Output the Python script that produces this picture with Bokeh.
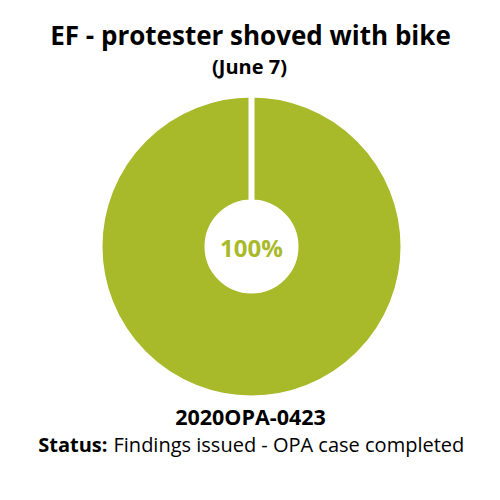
import math
from bokeh.plotting import figure
from bokeh.models import Range1d
from bokeh.core.properties import value
from bokeh.embed import file_html
from bokeh.resources import INLINE

# Chart content
title = "EF - protester shoved with bike"
subtitle = "(June 7)"
case_id = "2020OPA-0423"
status_label = "Status:"
status_text = "Findings issued - OPA case completed"
categories = ["Sustained"]
shares = [100]
colors = ["#a8b92a"]

W, H = 500, 500
p = figure(width=W, height=H, output_backend="svg", toolbar_location=None,
           x_range=Range1d(0, W), y_range=Range1d(H, 0),
           min_border=0, outline_line_color=None)
p.axis.visible = False
p.grid.visible = False
p.background_fill_color = "white"
p.border_fill_color = "white"

# Donut: wedges run clockwise from 12 o'clock
cx, cy = 251, 246
total = sum(shares)
start = math.pi / 2
starts, ends = [], []
for s in shares:
    sweep = 2 * math.pi * s / total
    starts.append(start)
    ends.append(start - sweep)
    start -= sweep

p.annular_wedge(x=[cx] * len(shares), y=[cy] * len(shares),
                inner_radius=44, outer_radius=152,
                start_angle=starts, end_angle=ends,
                direction="clock",
                fill_color=colors, line_color="white", line_width=6)

p.text(x=[cx], y=[cy + 1], text=[f"{shares[0]}%"], text_align="center",
       text_baseline="middle", text_font=value("Open Sans"),
       text_font_style="bold", text_font_size="24px", text_color=colors[0])

# Titles
p.text(x=[250], y=[34], text=[title], text_align="center", text_baseline="middle",
       text_font=value("Open Sans"), text_font_style="bold",
       text_font_size="26px", text_color="black")
p.text(x=[249], y=[66], text=[subtitle], text_align="center", text_baseline="middle",
       text_font=value("Open Sans"), text_font_style="bold",
       text_font_size="20px", text_color="black")

# Footer
p.text(x=[250], y=[416], text=[case_id], text_align="center", text_baseline="middle",
       text_font=value("Open Sans"), text_font_style="bold",
       text_font_size="21.5px", text_color="black")
p.text(x=[107], y=[444], text=[status_label], text_align="right", text_baseline="middle",
       text_font=value("Open Sans"), text_font_style="bold",
       text_font_size="20px", text_color="black")
p.text(x=[113], y=[444], text=[status_text], text_align="left", text_baseline="middle",
       text_font=value("Open Sans"), text_font_size="20px", text_color="black")

open("out.html", "w").write(file_html(p, INLINE))
